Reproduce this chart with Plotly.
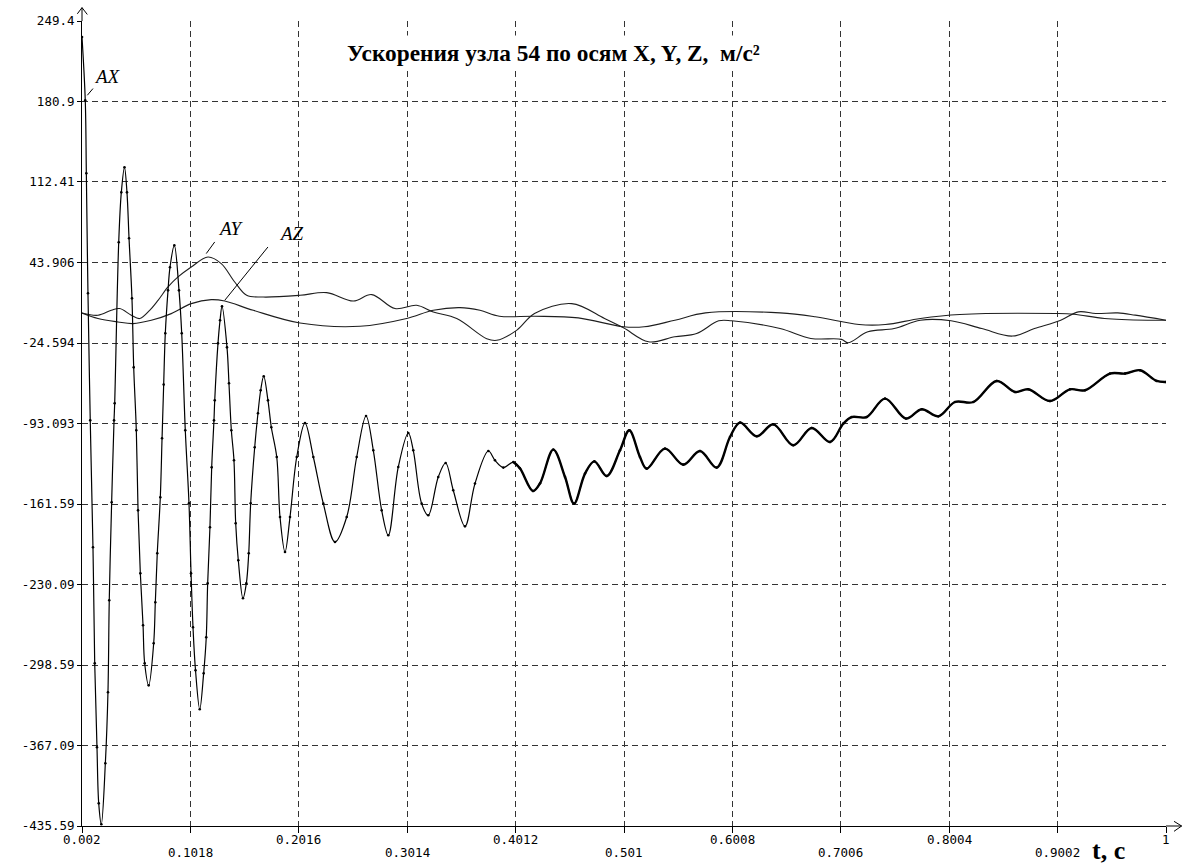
import plotly.graph_objects as go

# ---------------- data ----------------
ax_t = [0.0020, 0.0050, 0.0060, 0.0075, 0.0096, 0.0121, 0.0137, 0.0158, 0.0174, 0.0198,
        0.0235, 0.0259, 0.0271, 0.0293, 0.0315, 0.0321, 0.0358, 0.0382, 0.0411, 0.0434,
        0.0453, 0.0480, 0.0496, 0.0520, 0.0536, 0.0557, 0.0582, 0.0597, 0.0634, 0.0680,
        0.0695, 0.0713, 0.0741, 0.0757, 0.0772, 0.0787, 0.0812, 0.0830, 0.0870, 0.0913,
        0.0938, 0.0971, 0.1005, 0.1024, 0.1042, 0.1065, 0.1104, 0.1140, 0.1164, 0.1177,
        0.1198, 0.1214, 0.1235, 0.1242, 0.1272, 0.1291, 0.1309, 0.1355, 0.1373, 0.1395,
        0.1419, 0.1435, 0.1459, 0.1502, 0.1533, 0.1555, 0.1573, 0.1610, 0.1640, 0.1665,
        0.1693, 0.1732, 0.1763, 0.1813, 0.1843, 0.1889, 0.1935, 0.1997, 0.2073, 0.2150,
        0.2242, 0.2349, 0.2457, 0.2549, 0.2635, 0.2702, 0.2779, 0.2840, 0.2932, 0.3024,
        0.3070, 0.3147, 0.3208, 0.3300, 0.3368, 0.3438, 0.3546, 0.3638, 0.3761, 0.3822,
        0.3899, 0.3991, 0.4052, 0.4172, 0.4237, 0.4359, 0.4467, 0.4550, 0.4651, 0.4737,
        0.4851, 0.4973, 0.5059, 0.5157, 0.5219, 0.5387, 0.5556, 0.5710, 0.5863, 0.5986,
        0.6078, 0.6232, 0.6385, 0.6569, 0.6738, 0.6907, 0.7029, 0.7106, 0.7244, 0.7413,
        0.7606, 0.7751, 0.7904, 0.8057, 0.8226, 0.8441, 0.8610, 0.8732, 0.8932, 0.9116,
        0.9254, 0.9484, 0.9623, 0.9761, 0.9914, 1.0000]
ax_v = [235.8, 181.9, 119.8, 17.7, -90.4, -198.4, -297.1, -368.6, -416.3, -434.1,
        -382.2, -321.8, -243.5, -160.1, -90.4, -75.9, 61.1, 103.6, 124.9, 103.6,
        64.5, 13.4, -45.3, -98.9, -167.0, -220.6, -264.8, -297.1, -315.9, -280.1,
        -245.2, -203.5, -155.9, -105.7, -60.0, -16.3, 20.2, 39.8, 58.5, 20.2,
        -16.3, -98.9, -161.0, -220.6, -266.5, -303.1, -336.3, -305.7, -275.0, -229.1,
        -181.4, -130.4, -90.4, -73.4, -24.9, -5.3, 6.6, -28.3, -58.9, -98.9,
        -124.4, -178.0, -209.5, -241.8, -229.1, -203.5, -161.0, -113.3, -84.4, -64.8,
        -52.9, -73.4, -96.3, -121.6, -172.7, -202.4, -172.7, -121.6, -92.7, -121.6,
        -161.3, -193.9, -172.7, -121.6, -86.7, -115.9, -167.0, -188.2, -130.1, -101.2,
        -115.9, -161.3, -171.2, -138.6, -126.7, -149.9, -180.6, -144.2, -116.5, -124.4,
        -130.6, -125.9, -131.2, -150.5, -144.0, -115.3, -138.6, -161.3, -135.7, -125.3,
        -137.8, -115.9, -98.9, -121.6, -131.5, -114.5, -128.1, -116.5, -130.6, -104.6,
        -92.3, -104.0, -93.8, -111.6, -96.9, -108.8, -93.2, -87.6, -87.6, -71.9,
        -88.9, -81.0, -87.0, -74.8, -74.8, -56.9, -66.3, -64.0, -74.0, -64.0,
        -64.8, -50.6, -50.6, -47.8, -56.9, -57.8]

ay_t = [0.0020, 0.0167, 0.0290, 0.0367, 0.0474, 0.0551, 0.0643, 0.0720, 0.0812, 0.0904,
        0.1026, 0.1180, 0.1302, 0.1426, 0.1536, 0.1689, 0.2027, 0.2273, 0.2518, 0.2687,
        0.2902, 0.3101, 0.3254, 0.3470, 0.3746, 0.3838, 0.4024, 0.4186, 0.4528, 0.4831,
        0.5005, 0.5236, 0.5478, 0.5679, 0.5882, 0.6002, 0.6447, 0.6730, 0.7012, 0.7073,
        0.7255, 0.7497, 0.7739, 0.8021, 0.8304, 0.8587, 0.8789, 0.9031, 0.9193, 0.9355,
        0.9556, 0.9717, 1.0000]
ay_v = [0.9, -1.0, 3.2, 4.7, -1.0, -3.8, 3.2, 11.7, 23.1, 31.6,
        40.1, 48.6, 43.0, 27.3, 16.0, 14.5, 16.0, 18.3, 11.1, 16.6,
        4.7, 7.5, 1.8, -3.8, -20.9, -22.3, -13.6, 0.5, 8.9, -3.7,
        -11.7, -23.6, -19.3, -16.5, -5.7, -5.7, -12.3, -20.7, -21.5, -24.4,
        -15.1, -12.3, -5.2, -5.7, -12.3, -18.7, -12.3, -5.2, 1.9, 0.5,
        1.0, -0.9, -5.2]

az_t = [0.0020, 0.0167, 0.0351, 0.0490, 0.0658, 0.0842, 0.1026, 0.1210, 0.1334, 0.1597,
        0.2027, 0.2579, 0.3009, 0.3254, 0.3500, 0.3684, 0.3863, 0.4186, 0.4589, 0.5005,
        0.5195, 0.5478, 0.5760, 0.6447, 0.6770, 0.7174, 0.7416, 0.7739, 0.8102, 0.8991,
        0.9152, 0.9435, 0.9839, 1.0000]
az_v = [0.9, -3.8, -6.7, -8.1, -5.3, 0.4, 8.9, 12.3, 11.1, 3.2,
        -7.6, -10.4, -3.8, 3.2, 5.5, 3.2, -1.8, -1.8, -3.2, -10.8,
        -10.8, -5.2, 1.0, 1.0, -2.3, -8.9, -8.9, -3.7, -0.3, 0.5,
        -0.1, -3.7, -5.2, -5.2]

x_tick_vals = [0.002, 0.1018, 0.2016, 0.3014, 0.4012, 0.501, 0.6008, 0.7006, 0.8004, 0.9002, 1.0]
x_tick_labels = ["0.002", "0.1018", "0.2016", "0.3014", "0.4012", "0.501",
                 "0.6008", "0.7006", "0.8004", "0.9002", "1"]
y_tick_vals = [249.4, 180.901, 112.41, 43.906, -24.594, -93.093, -161.59, -230.09,
               -298.59, -367.09, -435.59]
y_tick_labels = ["249.4", "180.9", "112.41", "43.906", "-24.594", "-93.093", "-161.59",
                 "-230.09", "-298.59", "-367.09", "-435.59"]

title_text = "Ускорения узла 54 по осям X, Y, Z,  м/с²"
x_title = "t, c"
series_names = ["AX", "AY", "AZ"]

# ---------------- figure ----------------
fig = go.Figure()

fig.add_trace(go.Scatter(x=az_t, y=az_v, mode="lines", name=series_names[2],
                         line=dict(color="#1e1e1e", width=1.1, shape="spline", smoothing=1.0)))
fig.add_trace(go.Scatter(x=ay_t, y=ay_v, mode="lines", name=series_names[1],
                         line=dict(color="#1e1e1e", width=1.1, shape="spline", smoothing=1.0)))
fig.add_trace(go.Scatter(x=ax_t, y=ax_v, mode="lines+markers", name=series_names[0],
                         line=dict(color="black", width=1.2, shape="spline", smoothing=1.0),
                         marker=dict(size=2.6, color="black")))
i0 = next(i for i, t in enumerate(ax_t) if t >= 0.39)
fig.add_trace(go.Scatter(x=ax_t[i0:], y=ax_v[i0:], mode="lines", name=series_names[0],
                         line=dict(color="black", width=2.4, shape="spline", smoothing=1.0),
                         hoverinfo="skip"))

grid = dict(showgrid=True, gridcolor="#333333", gridwidth=1, griddash="6px,4px",
            zeroline=False, showline=True, linecolor="black", linewidth=1,
            ticks="outside", tickcolor="black", tickwidth=1)

fig.update_xaxes(range=[0.002, 1.0], tickvals=x_tick_vals, showticklabels=False,
                 ticklen=6, **grid)
fig.update_yaxes(range=[-435.59, 249.4], tickvals=y_tick_vals, ticktext=y_tick_labels,
                 ticklen=4, tickfont=dict(family="DejaVu Sans Mono", size=12.5, color="black"),
                 **grid)

annotations = []
for i, (v, lab) in enumerate(zip(x_tick_vals, x_tick_labels)):
    annotations.append(dict(x=v, xref="x", y=0, yref="paper", text=lab, showarrow=False,
                            xanchor="center", yanchor="middle",
                            yshift=-13 if i % 2 == 0 else -26,
                            font=dict(family="DejaVu Sans Mono", size=12.5, color="black")))

annotations.append(dict(x=0.435, y=0.9599, xref="paper", yref="paper", text=title_text,
                        showarrow=False, xanchor="center", yanchor="middle",
                        bgcolor="white", borderpad=4,
                        font=dict(family="Liberation Serif", size=23.3, color="black",
                                  weight="bold")))
annotations.append(dict(x=0.9465, y=-0.0302, xref="paper", yref="paper", text=x_title,
                        showarrow=False, xanchor="center", yanchor="middle",
                        font=dict(family="Liberation Serif", size=26, color="black",
                                  weight="bold")))

lab_font = dict(family="Liberation Serif", size=19, color="black", style="italic")
annotations.append(dict(x=0.0259, y=202.3, xref="x", yref="y", text=series_names[0],
                        showarrow=False, font=lab_font))
annotations.append(dict(x=0.1392, y=73.0, xref="x", yref="y", text=series_names[1],
                        showarrow=False, font=lab_font))
annotations.append(dict(x=0.1953, y=68.8, xref="x", yref="y", text=series_names[2],
                        showarrow=False, font=lab_font))

shapes = []
# label pointer lines
for (x0, y0, x1, y1) in [(0.0069, 186.2, 0.0121, 191.9),
                         (0.1164, 51.5, 0.1242, 61.4),
                         (0.1334, 11.7, 0.1732, 57.1)]:
    shapes.append(dict(type="line", xref="x", yref="y", x0=x0, y0=y0, x1=x1, y1=y1,
                       line=dict(color="black", width=1)))
# axis arrows
arrow = dict(color="black", width=1)
for (x0, y0, x1, y1) in [(0, 1, 0, 1.0166), (-0.0043, 1.0089, 0, 1.0166),
                         (0.0049, 1.0081, 0, 1.0166),
                         (1, 0, 1.0144, 0), (1.0074, 0.0058, 1.0144, 0),
                         (1.0074, -0.0066, 1.0144, 0)]:
    shapes.append(dict(type="line", xref="paper", yref="paper", x0=x0, y0=y0, x1=x1, y1=y1,
                       line=arrow))

fig.update_layout(width=1186, height=866, margin=dict(l=82, r=20, t=21, b=40, pad=0),
                  paper_bgcolor="white", plot_bgcolor="white", showlegend=False,
                  annotations=annotations, shapes=shapes)

fig.write_html("out.html")
